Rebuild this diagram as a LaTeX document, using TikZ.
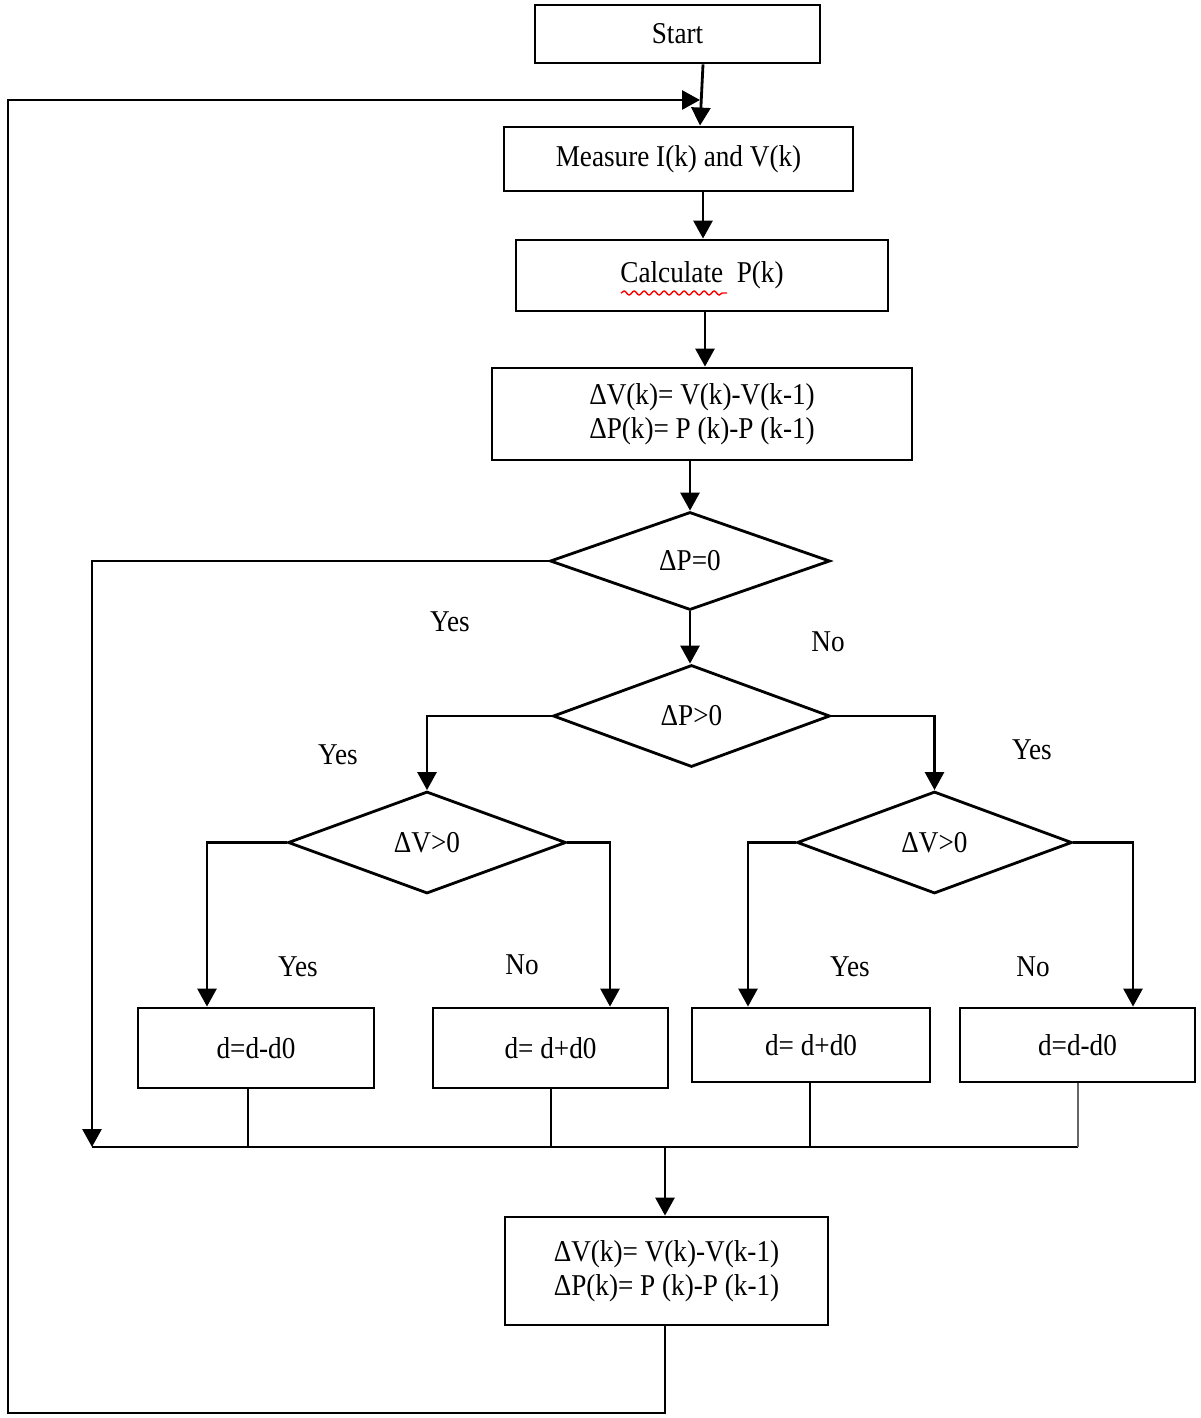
\documentclass[tikz,border=0pt]{standalone}
\usepackage{fontspec}
\setmainfont{Liberation Serif}[FakeStretch=0.9]
\usetikzlibrary{shapes.geometric,arrows.meta,decorations.pathmorphing}
\begin{document}
\begin{tikzpicture}[line width=0.8pt,
  every node/.style={font=\fontsize{8.6}{9.6}\selectfont},
  box/.style={draw,rectangle,inner sep=0,align=center},
  dec/.style={draw,diamond,inner sep=0,minimum width=2.78cm,minimum height=1.02cm},
  arr/.style={-{Triangle[length=1.8mm,width=1.9mm]}}]
\useasboundingbox (0,0) rectangle (12,-14.18);

% main column
\node (start) [box,minimum width=2.85cm,minimum height=0.58cm] at (6.775,-0.34) {Start};
\node (measure) [box,minimum width=3.49cm,minimum height=0.64cm] at (6.785,-1.59) {Measure I(k) and V(k)};
\node (calc) [box,minimum width=3.72cm,minimum height=0.71cm] at (7.02,-2.755) {Calculate\ \ P(k)};
\node (delta) [box,minimum width=4.20cm,minimum height=0.92cm] at (7.02,-4.14) {ΔV(k)= V(k)-V(k-1)\\ΔP(k)= P (k)-P (k-1)};
\node (zero) [dec,minimum width=2.80cm,minimum height=0.98cm] at (6.90,-5.61) {ΔP=0};
\node (pos) [dec,minimum width=2.77cm] at (6.915,-7.16) {ΔP>0};
\node (vleft) [dec] at (4.27,-8.425) {ΔV>0};
\node (vright) [dec,minimum width=2.75cm] at (9.345,-8.425) {ΔV>0};

% duty updates
\node (dec1) [box,minimum width=2.36cm,minimum height=0.80cm] at (2.56,-10.48) {d=d-d0};
\node (inc1) [box,minimum width=2.35cm,minimum height=0.80cm] at (5.505,-10.48) {d= d+d0};
\node (inc2) [box,minimum width=2.38cm,minimum height=0.74cm] at (8.11,-10.45) {d= d+d0};
\node (dec2) [box,minimum width=2.35cm,minimum height=0.74cm] at (10.775,-10.45) {d=d-d0};
\node (last) [box,minimum width=3.23cm,minimum height=1.08cm] at (6.665,-12.71) {ΔV(k)= V(k)-V(k-1)\\ΔP(k)= P (k)-P (k-1)};

\draw [red,line width=0.4pt,decorate,decoration={snake,amplitude=0.2mm,segment length=1mm}] (6.21,-2.93) -- (7.27,-2.93);

% flow
\draw [arr] (7.03,0 |- start.south) -- (7.00,0 |- measure.north);
\draw [arr] (7.03,0 |- measure.south) -- (7.03,0 |- calc.north);
\draw [arr] (7.05,0 |- calc.south) -- (7.05,0 |- delta.north);
\draw [arr] (6.90,0 |- delta.south) -- (zero.north);
\draw [arr] (zero.south) -- (6.90,0 |- pos.north);
\draw [arr] (pos.west) -| (vleft.north);
\draw [arr] (pos.east) -| (vright.north);
\draw [arr] (vleft.west) -| (2.07,0 |- dec1.north);
\draw [arr] (vleft.east) -| (6.10,0 |- inc1.north);
\draw [arr] (vright.west) -| (7.48,0 |- inc2.north);
\draw [arr] (vright.east) -| (11.33,0 |- dec2.north);

% collect
\coordinate (busL) at (0.92,-11.47);
\coordinate (busR) at (10.78,-11.47);
\draw [arr] (zero.west) -| (busL);
\draw (busL) -- (busR);
\draw (2.48,0 |- dec1.south) -- (2.48,0 |- busL);
\draw (5.51,0 |- inc1.south) -- (5.51,0 |- busL);
\draw (8.10,0 |- inc2.south) -- (8.10,0 |- busL);
\draw [black!60] (10.78,0 |- dec2.south) -- (busR);
\draw [arr] (6.65,0 |- busL) -- (6.65,0 |- last.north);

% loop back
\coordinate (back) at (7.00,-1.0);
\draw [arr] (6.65,0 |- last.south) -- (6.65,-14.13) -- (0.08,-14.13) -- (0.08,-1.0) -- (back);

% labels
\node (y0) at (4.50,-6.22) {Yes};
\node (n0) at (8.28,-6.42) {No};
\node (y1) at (3.38,-7.55) {Yes};
\node (y2) at (10.32,-7.50) {Yes};
\node (y3) at (2.98,-9.67) {Yes};
\node (n3) at (5.22,-9.65) {No};
\node (y4) at (8.50,-9.67) {Yes};
\node (n4) at (10.33,-9.67) {No};
\end{tikzpicture}
\end{document}
